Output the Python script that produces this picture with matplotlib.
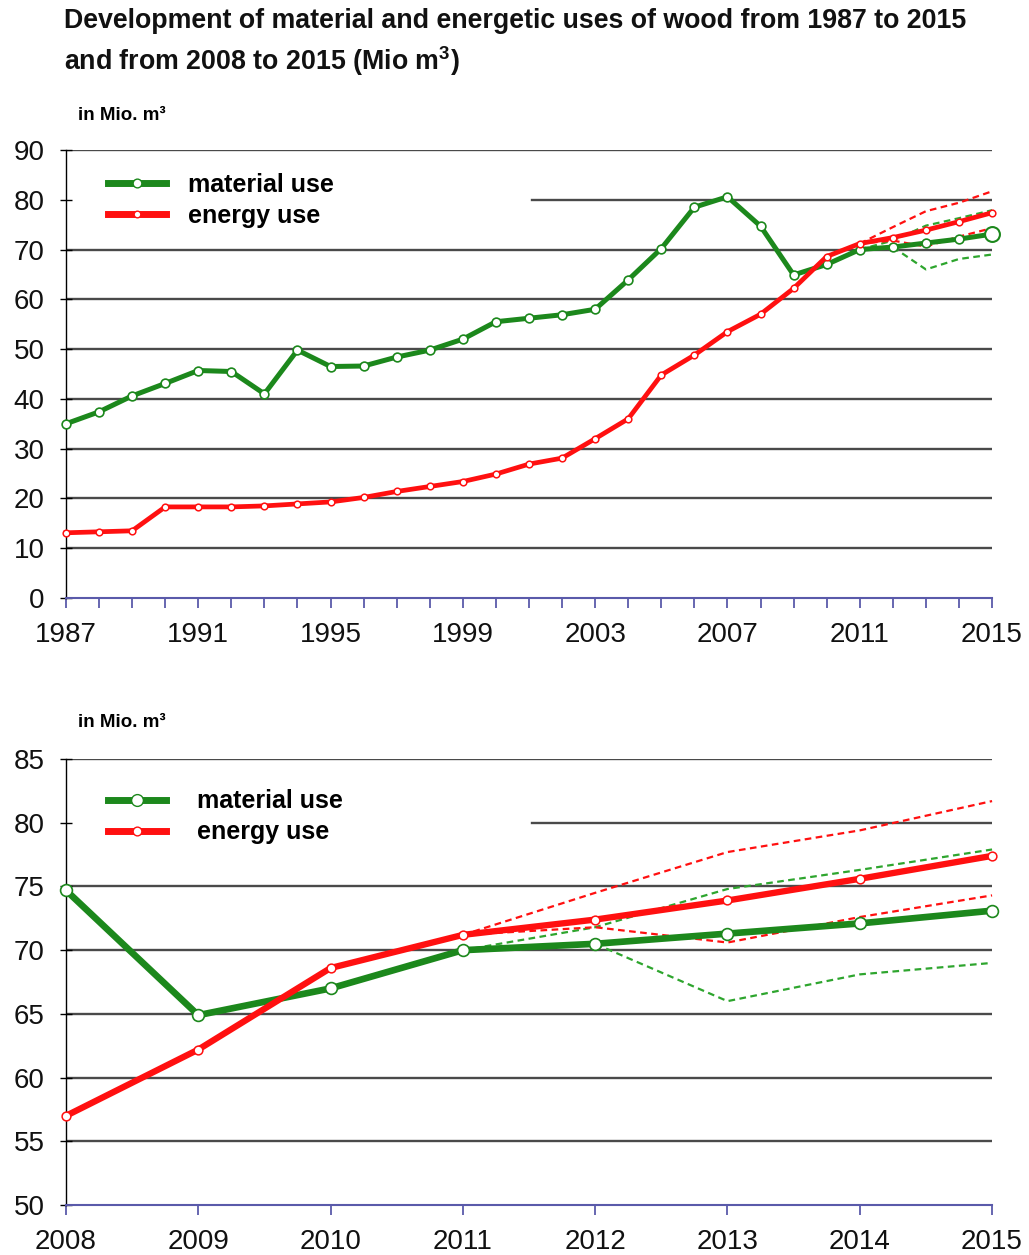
import matplotlib
matplotlib.use("Agg")
import matplotlib.pyplot as plt
from matplotlib.lines import Line2D

plt.rcParams['font.family'] = ['Liberation Sans', 'DejaVu Sans']
plt.rcParams['mathtext.default'] = 'regular'

# data (Mio m3)
years = list(range(1987, 2016))
material = [35.0, 37.4, 40.6, 43.1, 45.7, 45.5, 41.0, 49.8, 46.5, 46.6,
            48.4, 49.8, 52.0, 55.5, 56.2, 56.9, 58.0, 63.9, 70.2, 78.5,
            80.6, 74.7, 64.9, 67.0, 70.0, 70.5, 71.3, 72.1, 73.1]
energy = [13.1, 13.3, 13.5, 18.3, 18.3, 18.3, 18.5, 18.9, 19.3, 20.2,
          21.4, 22.4, 23.4, 24.9, 26.9, 28.1, 32.0, 36.0, 44.8, 48.8,
          53.5, 57.0, 62.2, 68.6, 71.2, 72.4, 73.9, 75.6, 77.4]

scen_years = [2011, 2012, 2013, 2014, 2015]
material_high = [70.0, 71.8, 74.8, 76.3, 77.9]
material_low = [70.0, 70.5, 66.0, 68.1, 69.0]
energy_high = [71.2, 74.5, 77.7, 79.4, 81.7]
energy_low = [71.2, 71.8, 70.6, 72.6, 74.3]

GREEN = '#1c881c'
GREEN_D = '#2ea52e'
RED = '#ff1010'
GRID = '#4a4a4a'
AXBLUE = '#5a5aaa'

fig = plt.figure(figsize=(10.29, 12.55), dpi=100)

fig.text(0.062, 0.983, 'Development of material and energetic uses of wood from 1987 to 2015',
         fontsize=19.3, fontweight='bold', va='center', ha='left', color='#111111')
fig.text(0.062, 0.951, r'and from 2008 to 2015 (Mio m$^3$)',
         fontsize=19.3, fontweight='bold', va='center', ha='left', color='#111111')


def draw(ax, x0, ymin, ymax, ystep, label_step, lw, ms_g, ms_r, big_last, leg_y, textpad):
    i0 = years.index(x0)
    xs = years[i0:]
    ax.set_xlim(x0, 2015)
    ax.set_ylim(ymin, ymax)
    yt = list(range(ymin, ymax + 1, ystep))
    ax.set_yticks(yt)
    for v in yt:
        if v == ymin:
            continue
        xmin = 0.503 if v == 80 else 0
        ax.axhline(v, xmin=xmin, xmax=1, color=GRID, lw=1.7, zorder=1)

    # scenario lines
    ax.plot(scen_years, material_high, ls=(0, (3, 2)), color=GREEN_D, lw=1.6, zorder=3, clip_on=False)
    ax.plot(scen_years, material_low, ls=(0, (3, 2)), color=GREEN_D, lw=1.6, zorder=3, clip_on=False)
    ax.plot(scen_years, energy_high, ls=(0, (3, 2)), color=RED, lw=1.6, zorder=3, clip_on=False)
    ax.plot(scen_years, energy_low, ls=(0, (3, 2)), color=RED, lw=1.6, zorder=3, clip_on=False)

    ax.plot(xs, material[i0:], color=GREEN, lw=lw, marker='o', ms=ms_g, mfc='white',
            mec=GREEN, mew=1.2, zorder=4, clip_on=False)
    ax.plot(xs, energy[i0:], color=RED, lw=lw * 0.95, marker='o', ms=ms_r, mfc='white',
            mec=RED, mew=1.1, zorder=5, clip_on=False)
    if big_last:
        ax.plot([xs[-1]], [material[-1]], marker='o', ms=ms_g * 1.7, mfc='white',
                mec=GREEN, mew=1.5, zorder=6, clip_on=False)

    ax.set_xticks(xs)
    ax.set_xticklabels([str(y) if (y - x0) % label_step == 0 else '' for y in xs])
    for s in ['top', 'right']:
        ax.spines[s].set_visible(False)
    ax.spines['left'].set_color('black')
    ax.spines['left'].set_linewidth(1.0)
    ax.spines['bottom'].set_color(AXBLUE)
    ax.spines['bottom'].set_linewidth(1.5)
    ax.tick_params(axis='y', direction='inout', length=9, width=1.0, color='black',
                   pad=11, labelsize=20, labelcolor='#111111')
    ax.tick_params(axis='x', direction='out', length=7, width=1.3, color=AXBLUE,
                   pad=10, labelsize=20, labelcolor='#111111')

    handles = [Line2D([], [], color=GREEN, lw=5, marker='o', ms=ms_g, mfc='white', mec=GREEN),
               Line2D([], [], color=RED, lw=5, marker='o', ms=ms_r, mfc='white', mec=RED)]
    ax.legend(handles, ['material use', 'energy use'], loc='upper left',
              bbox_to_anchor=(0.0454, leg_y), frameon=False, borderpad=0, borderaxespad=0,
              handlelength=2.3, handletextpad=textpad, labelspacing=0.28,
              prop={'weight': 'bold', 'size': 18})


ax1 = fig.add_axes([0.0641, 0.5235, 0.900, 0.357])
draw(ax1, 1987, 0, 90, 10, 4, 3.6, 6.3, 4.8, True, 0.949, 0.9)
fig.text(0.076, 0.908, 'in Mio. m³', fontsize=13.5, fontweight='bold', ha='left', va='center')

ax2 = fig.add_axes([0.0641, 0.0398, 0.900, 0.3554])
draw(ax2, 2008, 50, 85, 5, 1, 4.8, 8.5, 6.3, False, 0.932, 1.25)
fig.text(0.076, 0.424, 'in Mio. m³', fontsize=13.5, fontweight='bold', ha='left', va='center')

fig.savefig('out.png', dpi=100)
